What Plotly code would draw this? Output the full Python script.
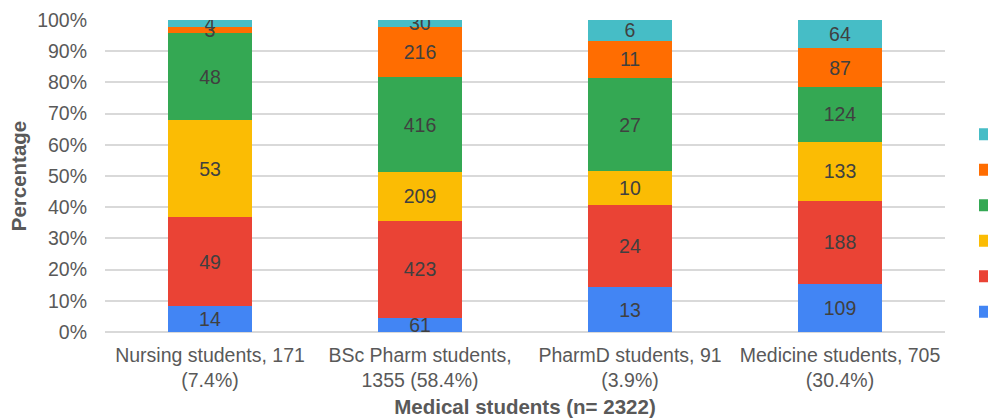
import plotly.graph_objects as go

# Student groups shown on the x axis
categories = [
    "Nursing students, 171<br>(7.4%)",
    "BSc Pharm students,<br>1355 (58.4%)",
    "PharmD students, 91<br>(3.9%)",
    "Medicine students, 705<br>(30.4%)",
]

# Response counts per group, one list per stacked segment (bottom to top)
level_1 = [14, 61, 13, 109]
level_2 = [49, 423, 24, 188]
level_3 = [53, 209, 10, 133]
level_4 = [48, 416, 27, 124]
level_5 = [3, 216, 11, 87]
level_6 = [4, 30, 6, 64]

# Percentage axis ticks
y_tick_values = [0, 10, 20, 30, 40, 50, 60, 70, 80, 90, 100]
y_tick_labels = ["0%", "10%", "20%", "30%", "40%", "50%",
                 "60%", "70%", "80%", "90%", "100%"]

series = [
    ("Level 1", level_1, "#4285F4"),
    ("Level 2", level_2, "#EA4335"),
    ("Level 3", level_3, "#FBBC04"),
    ("Level 4", level_4, "#34A853"),
    ("Level 5", level_5, "#FF6D01"),
    ("Level 6", level_6, "#46BDC6"),
]

FONT = "Liberation Sans, Arial, sans-serif"

fig = go.Figure()
for name, values, color in series:
    fig.add_trace(go.Bar(
        x=categories,
        y=values,
        name=name,
        marker=dict(color=color, line=dict(width=0)),
        text=[str(v) for v in values],
        textposition="inside",
        insidetextanchor="middle",
        textangle=0,
        constraintext="none",
        textfont=dict(family=FONT, size=19.5, color="#404040"),
    ))

fig.update_layout(
    barmode="stack",
    barnorm="percent",
    bargap=0.6,
    width=988,
    height=419,
    margin=dict(l=105, r=43, t=20, b=87, autoexpand=False),
    plot_bgcolor="white",
    paper_bgcolor="white",
    font=dict(family=FONT, color="#595959"),
    showlegend=True,
    legend=dict(
        traceorder="reversed",
        x=(965 - 105) / 840,
        xanchor="left",
        y=(332 - 223) / 312,
        yanchor="middle",
        font=dict(size=25, color="#595959"),
        bgcolor="rgba(0,0,0,0)",
    ),
    xaxis=dict(
        title=dict(text="<b>Medical students (n= 2322)</b>",
                   font=dict(size=20.5, color="#595959"), standoff=9),
        tickfont=dict(size=19.5, color="#595959"),
        showgrid=False,
        showline=False,
        ticks="",
        ticklabelstandoff=9,
    ),
    yaxis=dict(
        title=dict(text="<b>Percentage</b>",
                   font=dict(size=20.5, color="#595959"), standoff=4),
        range=[0, 100],
        tickmode="array",
        tickvals=y_tick_values,
        ticktext=y_tick_labels,
        tickfont=dict(size=19.5, color="#595959"),
        showgrid=True,
        gridcolor="#d9d9d9",
        gridwidth=1.5,
        zeroline=True,
        zerolinecolor="#d9d9d9",
        zerolinewidth=1.5,
        ticks="",
        ticklabelstandoff=17,
    ),
)

fig.write_html("out.html")
